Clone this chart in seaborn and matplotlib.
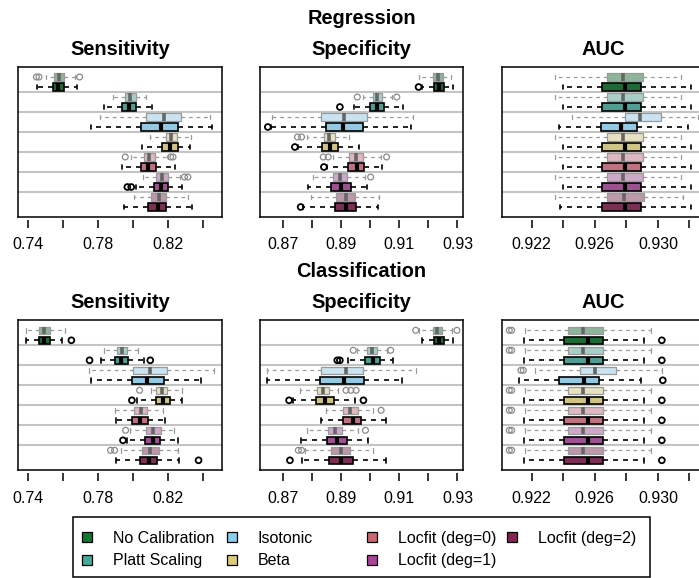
import numpy as np
import pandas as pd
import matplotlib
matplotlib.use("Agg")
import matplotlib.pyplot as plt
from matplotlib.lines import Line2D
from matplotlib.patches import Rectangle
import seaborn as sns

methods = ["No Calibration", "Platt Scaling", "Isotonic", "Beta",
           "Locfit (deg=0)", "Locfit (deg=1)", "Locfit (deg=2)"]
colors = ["#117733", "#44AA99", "#88CCEE", "#DDCC77", "#CC6677", "#AA4499", "#882255"]

# each box: lower whisker, Q1, median, Q3, upper whisker
# "light" = faded upper box of each pair, "dark" = solid lower box
reg_sens_light = [
    [0.7501, 0.7547, 0.7575, 0.7604, 0.7667],
    [0.7886, 0.7952, 0.7983, 0.8015, 0.8076],
    [0.7810, 0.8072, 0.8177, 0.8272, 0.8442],
    [0.8099, 0.8187, 0.8219, 0.8251, 0.8330],
    [0.7987, 0.8061, 0.8091, 0.8126, 0.8200],
    [0.8057, 0.8133, 0.8168, 0.8200, 0.8267],
    [0.8004, 0.8101, 0.8147, 0.8190, 0.8314],
]
reg_sens_dark = [
    [0.7453, 0.7543, 0.7573, 0.7604, 0.7682],
    [0.7834, 0.7939, 0.7977, 0.8019, 0.8107],
    [0.7762, 0.8044, 0.8162, 0.8257, 0.8450],
    [0.8053, 0.8168, 0.8213, 0.8257, 0.8324],
    [0.7937, 0.8046, 0.8088, 0.8130, 0.8238],
    [0.8019, 0.8118, 0.8160, 0.8200, 0.8282],
    [0.7947, 0.8088, 0.8141, 0.8190, 0.8339],
]
reg_sens_out_light = [[0.7448, 0.7463, 0.7695], [], [], [], [0.7956, 0.8215, 0.8229],
                      [0.8295, 0.8314], []]
reg_sens_out_dark = [[], [], [], [], [], [0.7968, 0.7990], []]

reg_spec_light = [
    [0.9168, 0.9215, 0.9232, 0.9249, 0.9278],
    [0.8974, 0.9008, 0.9024, 0.9040, 0.9074],
    [0.8663, 0.8831, 0.8910, 0.8990, 0.9148],
    [0.8783, 0.8839, 0.8859, 0.8878, 0.8928],
    [0.8870, 0.8928, 0.8951, 0.8974, 0.9037],
    [0.8803, 0.8872, 0.8895, 0.8920, 0.8982],
    [0.8794, 0.8882, 0.8915, 0.8946, 0.9030],
]
reg_spec_dark = [
    [0.9179, 0.9220, 0.9236, 0.9254, 0.9283],
    [0.8944, 0.8999, 0.9023, 0.9048, 0.9112],
    [0.8658, 0.8846, 0.8905, 0.8976, 0.9139],
    [0.8752, 0.8832, 0.8861, 0.8889, 0.8961],
    [0.8852, 0.8924, 0.8953, 0.8979, 0.9040],
    [0.8786, 0.8866, 0.8899, 0.8932, 0.8987],
    [0.8769, 0.8879, 0.8915, 0.8951, 0.9025],
]
reg_spec_out_light = [[], [0.8955, 0.9091], [], [0.8749, 0.8763], [0.8838, 0.8855, 0.9056],
                      [0.9001], []]
reg_spec_out_dark = [[0.9166], [0.8895], [0.8647], [0.8740], [0.8840], [], [0.8760]]

reg_auc_light = [
    [0.92350, 0.92680, 0.92781, 0.92908, 0.93147],
    [0.92350, 0.92680, 0.92781, 0.92908, 0.93147],
    [0.92458, 0.92790, 0.92887, 0.93020, 0.93257],
    [0.92350, 0.92680, 0.92781, 0.92908, 0.93147],
    [0.92350, 0.92680, 0.92781, 0.92908, 0.93147],
    [0.92350, 0.92680, 0.92781, 0.92908, 0.93147],
    [0.92350, 0.92680, 0.92785, 0.92912, 0.93157],
]
reg_auc_dark = [
    [0.92397, 0.92648, 0.92792, 0.92891, 0.93211],
    [0.92397, 0.92648, 0.92792, 0.92891, 0.93211],
    [0.92373, 0.92640, 0.92769, 0.92870, 0.93189],
    [0.92397, 0.92648, 0.92792, 0.92891, 0.93211],
    [0.92397, 0.92648, 0.92792, 0.92891, 0.93211],
    [0.92397, 0.92648, 0.92792, 0.92891, 0.93211],
    [0.92381, 0.92648, 0.92792, 0.92891, 0.93211],
]
reg_auc_out_light = [[], [], [], [], [], [], []]
reg_auc_out_dark = [[], [], [], [], [], [], []]

cls_sens_light = [
    [0.7390, 0.7463, 0.7491, 0.7524, 0.7610],
    [0.7832, 0.7909, 0.7937, 0.7966, 0.8029],
    [0.7749, 0.8000, 0.8095, 0.8196, 0.8463],
    [0.8105, 0.8133, 0.8166, 0.8196, 0.8282],
    [0.7899, 0.8008, 0.8044, 0.8082, 0.8171],
    [0.7981, 0.8076, 0.8116, 0.8158, 0.8232],
    [0.7933, 0.8053, 0.8099, 0.8147, 0.8257],
]
cls_sens_dark = [
    [0.7390, 0.7461, 0.7493, 0.7528, 0.7596],
    [0.7819, 0.7895, 0.7933, 0.7971, 0.8061],
    [0.7762, 0.7992, 0.8082, 0.8175, 0.8387],
    [0.8023, 0.8130, 0.8171, 0.8210, 0.8282],
    [0.7905, 0.7996, 0.8042, 0.8088, 0.8185],
    [0.7966, 0.8069, 0.8112, 0.8156, 0.8257],
    [0.7901, 0.8042, 0.8090, 0.8139, 0.8261],
]
cls_sens_out_light = [[], [], [], [0.8038], [], [0.7958], [0.7872, 0.7895]]
cls_sens_out_dark = [[0.7648], [0.7752, 0.8099], [], [0.7994], [], [0.7943], [0.8375]]

cls_spec_light = [
    [0.9169, 0.9215, 0.9231, 0.9248, 0.9281],
    [0.8953, 0.8990, 0.9006, 0.9022, 0.9056],
    [0.8645, 0.8831, 0.8915, 0.8976, 0.9156],
    [0.8758, 0.8817, 0.8837, 0.8856, 0.8890],
    [0.8847, 0.8905, 0.8930, 0.8956, 0.9010],
    [0.8783, 0.8854, 0.8878, 0.8902, 0.8959],
    [0.8775, 0.8866, 0.8898, 0.8930, 0.9010],
]
cls_spec_dark = [
    [0.9177, 0.9220, 0.9237, 0.9254, 0.9286],
    [0.8924, 0.8982, 0.9008, 0.9033, 0.9077],
    [0.8645, 0.8828, 0.8910, 0.8979, 0.9108],
    [0.8735, 0.8813, 0.8844, 0.8875, 0.8947],
    [0.8830, 0.8907, 0.8941, 0.8968, 0.9054],
    [0.8760, 0.8849, 0.8884, 0.8918, 0.8993],
    [0.8763, 0.8859, 0.8899, 0.8941, 0.9053],
]
cls_spec_out_light = [[0.9156, 0.9298], [0.8941, 0.9070], [], [0.8916, 0.8933, 0.8951],
                      [0.9037], [0.8983], [0.8752, 0.8763]]
cls_spec_out_dark = [[], [0.8886, 0.8895], [], [0.8720, 0.8976], [], [], [0.8723]]

cls_auc_light = [
    [0.92158, 0.92428, 0.92523, 0.92655, 0.92955],
    [0.92158, 0.92428, 0.92523, 0.92655, 0.92955],
    [0.92221, 0.92507, 0.92602, 0.92733, 0.93025],
    [0.92158, 0.92428, 0.92523, 0.92655, 0.92955],
    [0.92158, 0.92428, 0.92523, 0.92655, 0.92955],
    [0.92158, 0.92428, 0.92523, 0.92655, 0.92955],
    [0.92158, 0.92428, 0.92523, 0.92655, 0.92955],
]
cls_auc_dark = [
    [0.92153, 0.92407, 0.92559, 0.92655, 0.92915],
    [0.92153, 0.92407, 0.92559, 0.92655, 0.92915],
    [0.92122, 0.92375, 0.92530, 0.92629, 0.92891],
    [0.92153, 0.92407, 0.92559, 0.92655, 0.92915],
    [0.92153, 0.92407, 0.92559, 0.92655, 0.92915],
    [0.92153, 0.92407, 0.92559, 0.92655, 0.92915],
    [0.92153, 0.92405, 0.92555, 0.92649, 0.92915],
]
cls_auc_out_light = [[0.92058, 0.92073], [0.92058, 0.92073], [0.92132, 0.92147],
                     [0.92058, 0.92073], [0.92058, 0.92073], [0.92058, 0.92073],
                     [0.92058, 0.92073]]
cls_auc_out_dark = [[0.93025], [0.93025], [0.93031], [0.93025], [0.93025], [0.93025],
                    [0.93025]]

sens_ticks = [0.74, 0.76, 0.78, 0.80, 0.82, 0.84]
sens_labels = ["0.74", "", "0.78", "", "0.82", ""]
spec_ticks = [0.87, 0.88, 0.89, 0.90, 0.91, 0.92, 0.93]
spec_labels = ["0.87", "", "0.89", "", "0.91", "", "0.93"]
auc_ticks = [0.922, 0.924, 0.926, 0.928, 0.930, 0.932]
auc_labels = ["0.922", "", "0.926", "", "0.930", ""]

W, H = 699, 578
sns.set_theme(style="white")
plt.rcParams["font.family"] = ["Liberation Sans", "DejaVu Sans"]
plt.rcParams["text.color"] = "black"

order = [f"{m} {s}" for m in methods for s in ("a", "b")]


def fade(c, a=0.5):
    r = np.array(matplotlib.colors.to_rgb(c))
    return tuple(a * r + (1 - a))


pal_dark = dict(zip(methods, colors))
pal_light = {m: fade(c) for m, c in zip(methods, colors)}


def long_table(vals, tag):
    return pd.DataFrame({
        "row": [f"{m} {tag}" for m, v in zip(methods, vals) for _ in v],
        "method": [m for m, v in zip(methods, vals) for _ in v],
        "value": [x for v in vals for x in v],
    })


def panel(ax, light, dark, out_light, out_dark, xlim, ticks, labels):
    for yy in np.arange(1.5, 13, 2):
        ax.axhline(yy, color="#c4c4c4", lw=1.5, zorder=0)
    dash = (0, (3, 3))
    sns.boxplot(data=long_table(light, "a"), x="value", y="row", order=order,
                hue="method", hue_order=methods, palette=pal_light, dodge=False,
                whis=(0, 100), width=0.75, showfliers=False, linecolor="#9a9a9a",
                linewidth=0.9, medianprops=dict(color="#666666", linewidth=2.6),
                whiskerprops=dict(linestyle=dash), capwidths=0.45, legend=False, ax=ax)
    sns.boxplot(data=long_table(dark, "b"), x="value", y="row", order=order,
                hue="method", hue_order=methods, palette=pal_dark, dodge=False,
                whis=(0, 100), width=0.75, showfliers=False, linecolor="black",
                linewidth=1.2, medianprops=dict(linewidth=3),
                whiskerprops=dict(linestyle=dash), capwidths=0.45, legend=False, ax=ax)
    for outs, tag, ec, lw in [(out_light, "a", "#8a8a8a", 0.9), (out_dark, "b", "black", 1.3)]:
        ot = long_table(outs, tag)
        if len(ot):
            sns.stripplot(data=ot, x="value", y="row", order=order, jitter=False,
                          orient="y", size=4.2, marker="o", facecolors="none",
                          edgecolor=ec, linewidth=lw, zorder=4, ax=ax)
    ax.set_ylim(13.97, -1.03)
    ax.set_xlim(*xlim)
    ax.set_yticks([])
    ax.set_xlabel("")
    ax.set_ylabel("")
    ax.tick_params(bottom=False, labelbottom=False, left=False)
    for s in ax.spines.values():
        s.set_visible(True)
        s.set_linewidth(1.1)
        s.set_color("black")
    sec = ax.secondary_xaxis(-0.02)
    sec.set_xticks(ticks, labels=labels)
    sec.spines["bottom"].set_visible(False)
    sec.tick_params(bottom=True, direction="out", length=5.8, width=1.1, pad=7,
                    labelsize=11.5, color="black", labelcolor="black")


fig = plt.figure(figsize=(W / 100, H / 100), dpi=100)
lefts = [18, 260, 501.7]
widths = [204, 203.3, 204]
tops = [66.7, 320]
panels = [
    [(reg_sens_light, reg_sens_dark, reg_sens_out_light, reg_sens_out_dark,
      (0.7343, 0.8509), sens_ticks, sens_labels),
     (reg_spec_light, reg_spec_dark, reg_spec_out_light, reg_spec_out_dark,
      (0.8620, 0.9320), spec_ticks, spec_labels),
     (reg_auc_light, reg_auc_dark, reg_auc_out_light, reg_auc_out_dark,
      (0.92010, 0.93303), auc_ticks, auc_labels)],
    [(cls_sens_light, cls_sens_dark, cls_sens_out_light, cls_sens_out_dark,
      (0.7343, 0.8509), sens_ticks, sens_labels),
     (cls_spec_light, cls_spec_dark, cls_spec_out_light, cls_spec_out_dark,
      (0.8620, 0.9320), spec_ticks, spec_labels),
     (cls_auc_light, cls_auc_dark, cls_auc_out_light, cls_auc_out_dark,
      (0.92010, 0.93303), auc_ticks, auc_labels)],
]
metric_titles = ["Sensitivity", "Specificity", "AUC"]
row_titles = ["Regression", "Classification"]

for r, top in enumerate(tops):
    for c in range(3):
        ax = fig.add_axes([lefts[c] / W, 1 - (top + 150) / H, widths[c] / W, 150 / H])
        panel(ax, *panels[r][c])
        fig.text((lefts[c] + widths[c] / 2) / W, 1 - (top - 12) / H, metric_titles[c],
                 ha="center", va="baseline", fontsize=14.4, fontweight="bold",
                 color="black")
    fig.text((lefts[1] + widths[1] / 2) / W, 1 - (top - 43) / H, row_titles[r],
             ha="center", va="baseline", fontsize=14.4, fontweight="bold", color="black")

# legend: four columns, one shared frame
legend_cols = [[0, 1], [2, 3], [4, 5], [6]]
col_x = [87, 232, 372, 512]
for idx, xc in zip(legend_cols, col_x):
    handles = [Line2D([], [], ls="none", marker="s", markersize=6.5,
                      markerfacecolor=colors[i], markeredgecolor="black",
                      markeredgewidth=0.9) for i in idx]
    leg = fig.legend(handles, [methods[i] for i in idx], loc="upper left",
                     bbox_to_anchor=((xc - 8) / W, 1 - 531 / H), frameon=False,
                     fontsize=11.5, handlelength=1.0, handletextpad=1.1,
                     labelspacing=0.45, borderpad=0, borderaxespad=0)
    for t in leg.get_texts():
        t.set_color("black")
fig.patches.append(Rectangle((73 / W, 1 - 577 / H), 577 / W, 60 / H,
                             transform=fig.transFigure, fill=False, lw=1.1,
                             ec="black"))

fig.savefig("out.png", dpi=100)
